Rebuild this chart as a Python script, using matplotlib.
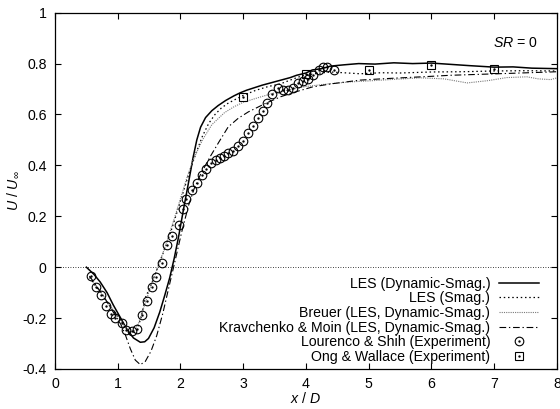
import numpy as np
import matplotlib
matplotlib.use('Agg')
import matplotlib.pyplot as plt
from matplotlib.legend_handler import HandlerTuple

plt.rcParams['font.family'] = ['Liberation Sans', 'DejaVu Sans']
plt.rcParams['font.size'] = 10.2
plt.rcParams['mathtext.fontset'] = 'custom'
plt.rcParams['mathtext.it'] = 'Liberation Sans:italic'
plt.rcParams['mathtext.rm'] = 'Liberation Sans'

# LES (Dynamic-Smag.)
x_dyn = [0.5, 0.62, 0.72, 0.83, 0.93, 1.04, 1.14, 1.25, 1.36, 1.43, 1.49, 1.58, 1.67, 1.75, 1.83,
         1.90, 1.97, 2.05, 2.13, 2.20, 2.26, 2.32, 2.40, 2.50, 2.60, 2.72, 2.85, 2.95, 3.05, 3.15,
         3.30, 3.45, 3.60, 3.75, 3.85, 4.00, 4.10, 4.25, 4.39, 4.60, 4.84, 5.1, 5.4, 5.7, 6.0,
         6.3, 6.6, 7.0, 7.3, 7.6, 8.0]
u_dyn = [0.0, -0.028, -0.058, -0.10, -0.149, -0.197, -0.241, -0.278, -0.295, -0.293, -0.28, -0.238, -0.176, -0.11, -0.04,
         0.035, 0.12, 0.23, 0.335, 0.43, 0.5, 0.55, 0.588, 0.615, 0.635, 0.655, 0.673, 0.685, 0.695, 0.703,
         0.715, 0.725, 0.735, 0.745, 0.754, 0.763, 0.775, 0.78, 0.79, 0.795, 0.80, 0.798, 0.803, 0.80, 0.802,
         0.797, 0.792, 0.786, 0.787, 0.782, 0.78]

# LES (Smag.)
x_smag = [0.55, 0.65, 0.75, 0.85, 0.95, 1.05, 1.14, 1.22, 1.30, 1.37, 1.44, 1.53, 1.62, 1.70, 1.78,
          1.86, 1.95, 2.05, 2.15, 2.25, 2.35, 2.45, 2.55, 2.65, 2.75, 2.88, 3.0, 3.2, 3.4, 3.59,
          3.8, 3.96, 4.2, 4.39, 4.6, 4.86, 5.2, 5.5, 6.0, 6.5, 7.0, 7.5, 8.0]
u_smag = [-0.04, -0.075, -0.11, -0.145, -0.18, -0.21, -0.245, -0.26, -0.25, -0.2, -0.12, -0.07, -0.012, 0.04, 0.093,
          0.15, 0.22, 0.30, 0.38, 0.45, 0.515, 0.565, 0.6, 0.625, 0.643, 0.66, 0.675, 0.695, 0.71, 0.72,
          0.74, 0.754, 0.762, 0.767, 0.764, 0.76, 0.764, 0.763, 0.767, 0.768, 0.771, 0.772, 0.771]

# Breuer (LES, Dynamic-Smag.)
x_breuer = [0.55, 0.65, 0.75, 0.85, 0.95, 1.05, 1.13, 1.20, 1.27, 1.34, 1.42, 1.50, 1.58, 1.66, 1.74,
            1.82, 1.90, 2.00, 2.10, 2.20, 2.35, 2.50, 2.70, 2.85, 3.00, 3.25, 3.50, 3.75, 4.00, 4.35,
            4.70, 5.0, 5.4, 5.82, 6.2, 6.57, 6.9, 7.2, 7.52, 7.7, 7.9, 8.0]
u_breuer = [-0.035, -0.07, -0.105, -0.14, -0.175, -0.21, -0.238, -0.255, -0.25, -0.215, -0.155, -0.095, -0.04, 0.015, 0.07,
            0.13, 0.19, 0.27, 0.35, 0.42, 0.5, 0.56, 0.607, 0.63, 0.648, 0.667, 0.685, 0.698, 0.71, 0.72,
            0.728, 0.732, 0.738, 0.744, 0.74, 0.724, 0.733, 0.745, 0.748, 0.74, 0.737, 0.744]

# Kravchenko & Moin (LES, Dynamic-Smag.)
x_krav = [0.55, 0.65, 0.75, 0.85, 0.95, 1.05, 1.12, 1.20, 1.28, 1.36, 1.44, 1.53, 1.62, 1.72, 1.81,
          1.89, 2.02, 2.13, 2.22, 2.32, 2.47, 2.62, 2.76, 2.92, 3.08, 3.35, 3.60, 3.85, 4.10, 4.39,
          4.86, 5.2, 5.6, 6.0, 6.3, 6.8, 7.3, 7.9, 8.0]
u_krav = [-0.035, -0.07, -0.105, -0.145, -0.185, -0.225, -0.265, -0.32, -0.365, -0.383, -0.37, -0.33, -0.27, -0.18, -0.084,
          0.0, 0.139, 0.244, 0.31, 0.365, 0.433, 0.495, 0.551, 0.585, 0.61, 0.643, 0.67, 0.69, 0.708, 0.72,
          0.735, 0.74, 0.745, 0.75, 0.754, 0.758, 0.762, 0.767, 0.768]

# Lourenco & Shih (Experiment)
x_ls = [0.57, 0.65, 0.74, 0.81, 0.89, 0.96, 1.06, 1.13, 1.23, 1.31, 1.39, 1.46, 1.54, 1.61, 1.70,
        1.79, 1.87, 1.97, 2.04, 2.08, 2.18, 2.26, 2.34, 2.41, 2.49, 2.56, 2.63, 2.70, 2.76, 2.84,
        2.92, 3.00, 3.08, 3.16, 3.24, 3.32, 3.38, 3.46, 3.55, 3.63, 3.71, 3.79, 3.88, 3.95, 4.04,
        4.11, 4.20, 4.27, 4.34, 4.45]
u_ls = [-0.034, -0.079, -0.11, -0.152, -0.182, -0.198, -0.221, -0.245, -0.252, -0.241, -0.189, -0.132, -0.077, -0.039, 0.017,
        0.086, 0.122, 0.165, 0.23, 0.266, 0.305, 0.331, 0.361, 0.384, 0.41, 0.423, 0.43, 0.436, 0.447, 0.457,
        0.477, 0.496, 0.529, 0.554, 0.588, 0.614, 0.646, 0.682, 0.706, 0.698, 0.695, 0.706, 0.724, 0.732, 0.741,
        0.754, 0.774, 0.787, 0.787, 0.774]

# Ong & Wallace (Experiment)
x_ow = [3, 4, 5, 6, 7]
u_ow = [0.67, 0.758, 0.774, 0.794, 0.777]

fig = plt.figure(figsize=(5.6, 4.09), dpi=100)
ax = fig.add_axes([0.0982, 0.0978, 0.8964, 0.8712])

ax.axhline(0, color='black', lw=0.6, ls=(0, (1, 2)))

l1, = ax.plot(x_dyn, u_dyn, '-', color='black', lw=1.1)
l2, = ax.plot(x_smag, u_smag, color='black', lw=0.9, ls=(0, (1.2, 2.2)))
l3, = ax.plot(x_breuer, u_breuer, color='#7a7a7a', lw=0.8, ls=(0, (1, 1)))
l4, = ax.plot(x_krav, u_krav, color='black', lw=0.8, ls=(0, (6, 2.5, 1.2, 2.5)))

c1, = ax.plot(x_ls, u_ls, 'o', mfc='none', mec='black', mew=0.8, ms=6.2)
c2, = ax.plot(x_ls, u_ls, '.', color='black', ms=1.4)
s1, = ax.plot(x_ow, u_ow, 's', mfc='none', mec='black', mew=0.8, ms=6)
s2, = ax.plot(x_ow, u_ow, '.', color='black', ms=1.4)

ax.set_xlim(0, 8)
ax.set_ylim(-0.4, 1)
ax.set_xticks(range(0, 9))
ax.set_yticks([-0.4, -0.2, 0, 0.2, 0.4, 0.6, 0.8, 1])
ax.set_yticklabels(['-0.4', '-0.2', '0', '0.2', '0.4', '0.6', '0.8', '1'])
ax.tick_params(direction='in', length=4, width=0.8, top=True, right=True, pad=6)
for sp in ax.spines.values():
    sp.set_linewidth(0.9)

ax.set_xlabel(r'$x$ / $D$', labelpad=0)
ax.set_ylabel(r'$U$ / $U_\infty$', labelpad=1)

ax.text(0.963, 0.915, r'$SR$ = 0', transform=ax.transAxes, ha='right', va='center')

leg = ax.legend([l1, l2, l3, l4, (c1, c2), (s1, s2)],
                ['LES (Dynamic-Smag.)', 'LES (Smag.)', 'Breuer (LES, Dynamic-Smag.)',
                 'Kravchenko & Moin (LES, Dynamic-Smag.)', 'Lourenco & Shih (Experiment)',
                 'Ong & Wallace (Experiment)'],
                handler_map={tuple: HandlerTuple(ndivide=1, pad=0)},
                loc='lower right', bbox_to_anchor=(0.964, 0.015), frameon=False,
                markerfirst=False, borderpad=0, borderaxespad=0,
                handlelength=2.8, handletextpad=0.63, labelspacing=0.04)
# right-align the key entries
for col in leg._legend_handle_box.get_children():
    col.align = 'right'

fig.savefig('out.png', dpi=100)
